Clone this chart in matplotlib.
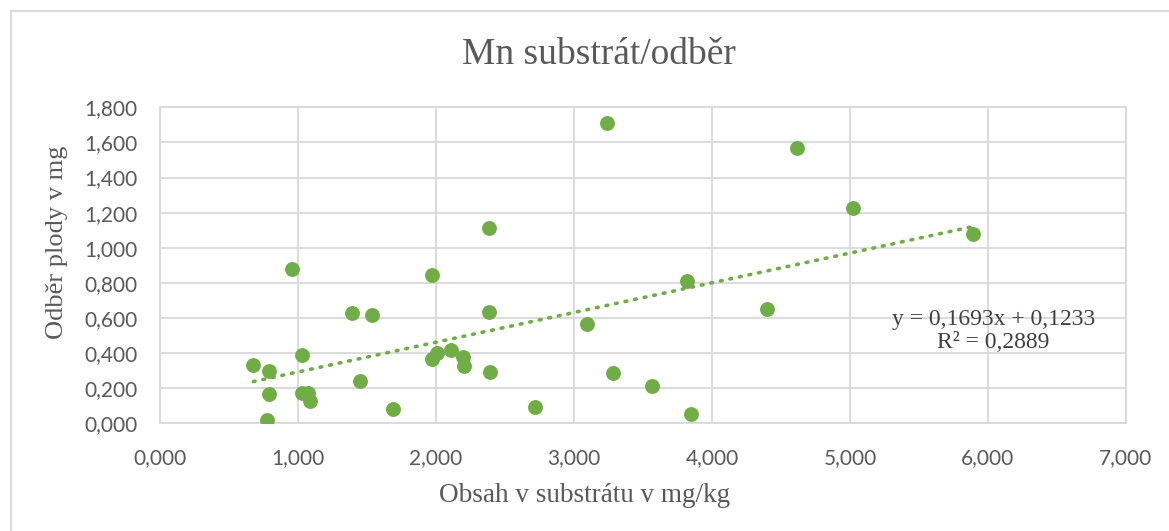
import numpy as np
import matplotlib
matplotlib.use('Agg')
import matplotlib.pyplot as plt
from matplotlib.patches import Rectangle

# substrate content (mg/kg) vs. uptake by fruit (mg)
obsah = [0.676, 0.792, 0.792, 0.773, 0.954, 1.031, 1.029, 1.072, 1.089,
         1.391, 1.536, 1.447, 1.690, 1.973, 1.969, 2.010, 2.106, 2.193,
         2.205, 2.382, 2.386, 2.391, 3.237, 4.618, 5.024, 3.816, 4.399,
         3.097, 3.280, 3.567, 2.717, 3.848, 5.894]
odber = [0.332, 0.298, 0.167, 0.019, 0.877, 0.389, 0.171, 0.171, 0.129,
         0.626, 0.617, 0.243, 0.080, 0.845, 0.368, 0.399, 0.417, 0.379,
         0.326, 1.110, 0.632, 0.292, 1.708, 1.570, 1.228, 0.810, 0.651,
         0.564, 0.285, 0.214, 0.091, 0.051, 1.078]

slope = 0.1693
intercept = 0.1233
r2 = 0.2889

green = '#70AD47'
grid_c = '#D9D9D9'
text_c = '#595959'

fig = plt.figure(figsize=(11.69, 5.31), dpi=100)
ax = fig.add_axes([0.1369, 0.2028, 0.8263, 0.5951])

ax.scatter(obsah, odber, s=115, color=green, zorder=3, linewidths=0)

xs = np.array([min(obsah), max(obsah)])
ax.plot(xs, slope * xs + intercept, color=green, lw=2.6,
        linestyle=(0, (0.5, 2.2)), dash_capstyle='round', zorder=2)

ax.set_xlim(0, 7)
ax.set_ylim(0, 1.8)
xt = np.arange(0, 8, 1)
yt = np.arange(0, 2.0, 0.2)
ax.set_xticks(xt)
ax.set_yticks(yt)
ax.set_xticklabels([('%.3f' % v).replace('.', ',') for v in xt])
ax.set_yticklabels([('%.3f' % v).replace('.', ',') for v in yt])
ax.grid(True, color=grid_c, lw=1.3, zorder=0)
ax.set_axisbelow(True)
for s in ax.spines.values():
    s.set_color(grid_c)
    s.set_linewidth(1.3)
ax.tick_params(length=0, labelsize=15, labelcolor=text_c)
ax.tick_params(axis='x', pad=18)
ax.tick_params(axis='y', pad=16)
for l in ax.get_xticklabels() + ax.get_yticklabels():
    l.set_fontfamily('Lato')

fig.text(585 / 1169, 1 - 495 / 531, 'Obsah v substrátu v mg/kg',
         family='Liberation Serif', fontsize=19.5, color=text_c,
         ha='center', va='center')
fig.text(57 / 1169, 1 - 242 / 531, 'Odběr plody v mg',
         family='Liberation Serif', fontsize=19, color=text_c,
         ha='center', va='center', rotation=90)
fig.text(0.512, 1 - 55 / 531, 'Mn substrát/odběr', family='Liberation Serif',
         fontsize=27, color=text_c, ha='center', va='center')

ax.text(6.04, 0.525, 'y = 0,1693x + 0,1233\nR² = 0,2889',
        family='Liberation Serif', fontsize=17, color='#404040',
        ha='center', va='center', linespacing=1.1)

fig.patches.append(Rectangle((11 / 1169, -0.1), 1.2, 1 - 11 / 531 + 0.1,
                             transform=fig.transFigure, fill=False,
                             edgecolor=grid_c, lw=1.5))

fig.savefig('out.png', dpi=100)
